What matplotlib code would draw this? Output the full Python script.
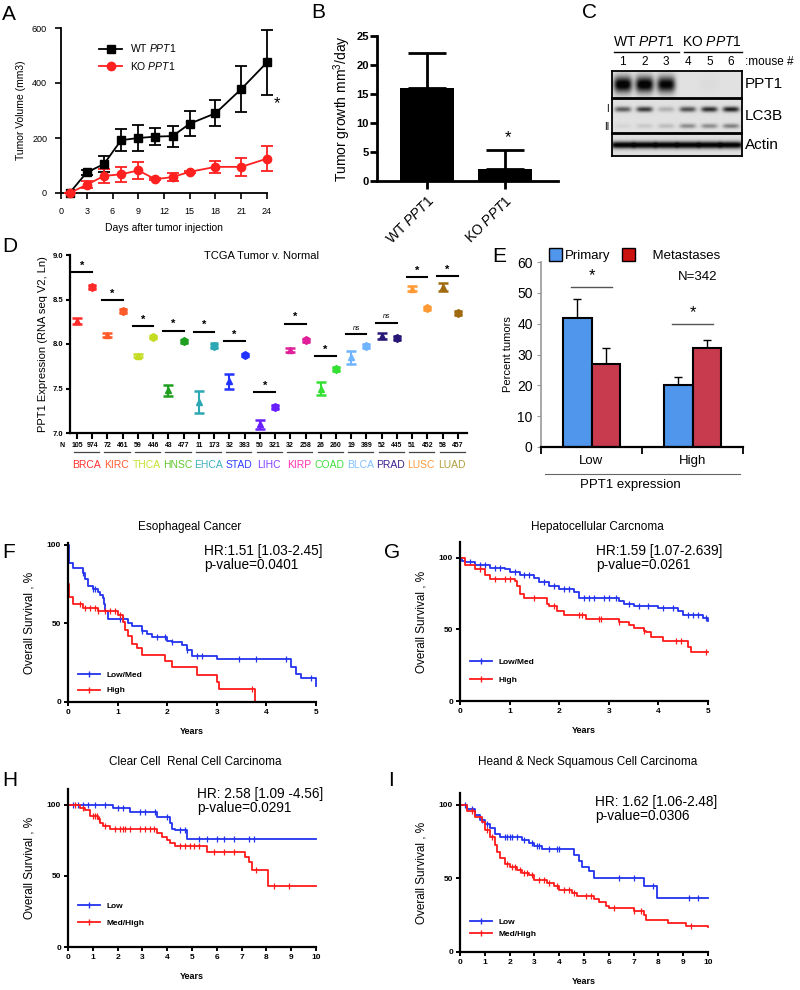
import numpy as np
import matplotlib
matplotlib.use('Agg')
import matplotlib.pyplot as plt
from matplotlib.lines import Line2D
from matplotlib.patches import Patch
import matplotlib.transforms as mtransforms

plt.rcParams['font.family'] = ['Liberation Sans', 'DejaVu Sans']
plt.rcParams['mathtext.fontset'] = 'custom'
plt.rcParams['mathtext.rm'] = 'Liberation Sans'
plt.rcParams['mathtext.it'] = 'Liberation Sans:italic'
plt.rcParams['mathtext.bf'] = 'Liberation Sans:bold'

# ---------------- DATA ----------------
# Panel A
days = [1, 3, 5, 7, 9, 11, 13, 15, 18, 21, 24]
wt_vol = [0, 75, 105, 192, 200, 205, 207, 252, 290, 378, 475]
wt_err = [0, 8, 30, 40, 48, 30, 38, 45, 48, 85, 117]
ko_vol = [0, 30, 62, 68, 82, 50, 58, 77, 95, 95, 125]
ko_err = [0, 12, 25, 28, 30, 3, 13, 3, 23, 33, 45]
a_xticks = [0, 3, 6, 9, 12, 15, 18, 21, 24]
a_yticks = [0, 200, 400, 600]

# Panel B
growth_labels = ['WT $\\mathit{PPT1}$', 'KO $\\mathit{PPT1}$']
growth = [16, 2]
growth_err = [6, 3.3]
b_yticks = [0, 5, 10, 15, 20, 25]

# Panel C (band intensities per lane, 0..1)
lanes = ['1', '2', '3', '4', '5', '6']
ppt1_band = [1.0, 1.0, 0.95, 0.0, 0.02, 0.0]
lc3b_I_band = [0.55, 0.7, 0.2, 0.6, 0.75, 0.8]
lc3b_II_band = [0.05, 0.1, 0.15, 0.35, 0.35, 0.4]
actin_band = [1.0, 1.0, 1.0, 1.0, 1.0, 1.0]

# Panel D
cancers = ['BRCA', 'KIRC', 'THCA', 'HNSC', 'EHCA', 'STAD', 'LIHC', 'KIRP', 'COAD', 'BLCA', 'PRAD', 'LUSC', 'LUAD']
n_normal = [105, 72, 59, 43, 11, 32, 50, 32, 26, 19, 52, 51, 58]
n_tumor = [974, 461, 446, 477, 173, 383, 321, 258, 260, 389, 445, 452, 457]
normal_expr = [8.26, 8.10, 7.87, 7.48, 7.35, 7.58, 7.10, 7.93, 7.50, 7.85, 8.09, 8.62, 8.64]
normal_err = [0.03, 0.02, 0.02, 0.06, 0.12, 0.08, 0.05, 0.02, 0.07, 0.07, 0.03, 0.03, 0.04]
tumor_expr = [8.64, 8.37, 8.08, 8.03, 7.98, 7.88, 7.29, 8.04, 7.72, 7.98, 8.07, 8.40, 8.35]
tumor_err = [0.02, 0.02, 0.01, 0.02, 0.03, 0.01, 0.02, 0.02, 0.02, 0.02, 0.02, 0.02, 0.02]
sig_level = [8.81, 8.49, 8.20, 8.15, 8.14, 8.03, 7.46, 8.23, 7.86, 8.11, 8.24, 8.75, 8.76]
sig_label = ['*', '*', '*', '*', '*', '*', '*', '*', '*', 'ns', 'ns', '*', '*']
d_yticks = [7.0, 7.5, 8.0, 8.5, 9.0]
marker_colors = ['#ff2a2a', '#ff5a28', '#c4dc20', '#1f9f1f', '#2ca8b4', '#2233ff', '#6a1fff',
                 '#e0209a', '#33e033', '#6fb4ff', '#2a1878', '#ff9933', '#a06a10']
label_colors = ['#ff3030', '#ff5a30', '#c8e030', '#60c830', '#40b0c0', '#3040ff', '#8040ff',
                '#ff30b0', '#40e040', '#80c0ff', '#402090', '#ff9a40', '#b0a040']

# Panel E
e_groups = ['Low', 'High']
primary = [42, 20]
primary_err = [6, 2.7]
metastases = [27, 32]
metastases_err = [5, 2.8]
e_sig = [52, 40]
e_yticks = [0, 10, 20, 30, 40, 50, 60]

# Panel F - Esophageal
F_low_t = [0, 0.02, 0.1, 0.3, 0.35, 0.4, 0.5, 0.6, 0.65, 0.7, 0.72, 0.75, 0.8, 1.2, 1.3, 1.5, 1.6, 1.7, 2.0, 2.1, 2.3, 2.4, 2.5, 3.0, 4.5, 4.6, 4.7, 5.0]
F_low_s = [100, 88, 85, 82, 78, 74, 72, 70, 68, 66, 62, 58, 53, 50, 48, 45, 43, 41, 39, 38, 36, 33, 29, 27, 22, 18, 15, 10]
F_low_c = [0.3, 0.5, 0.55, 1.05, 1.1, 1.5, 1.8, 1.95, 2.1, 2.4, 2.6, 2.7, 3.45, 3.8, 4.4, 4.9]
F_high_t = [0, 0.01, 0.03, 0.1, 0.3, 0.6, 1.0, 1.1, 1.15, 1.2, 1.3, 1.4, 1.5, 1.95, 2.1, 2.6, 3.0, 3.05, 3.78]
F_high_s = [100, 75, 67, 62, 60, 58, 55, 51, 46, 42, 37, 34, 30, 26, 22, 17, 13, 8.5, 0]
F_high_c = [0.25, 0.35, 0.45, 0.55, 0.6, 0.75, 0.85, 0.95, 1.05, 3.7]

# Panel G - Hepatocellular
G_low_t = [0, 0.05, 0.1, 0.3, 0.6, 0.9, 1.0, 1.2, 1.5, 1.6, 1.8, 2.0, 2.3, 2.4, 3.1, 3.2, 3.3, 3.5, 4.0, 4.4, 4.5, 4.9, 5.0]
G_low_s = [100, 98, 97, 95, 93, 92, 90, 88, 86, 83, 80, 78, 76, 72, 72, 70, 68, 66, 65, 63, 60, 58, 56]
G_low_c = [0.2, 0.4, 0.5, 0.7, 0.8, 1.1, 1.3, 1.4, 1.7, 1.9, 2.1, 2.2, 2.5, 2.6, 2.7, 2.9, 3.0, 3.15, 3.4, 3.6, 3.8, 4.1, 4.3, 4.6, 4.7, 4.8, 4.95]
G_high_t = [0, 0.1, 0.3, 0.5, 0.6, 1.1, 1.15, 1.2, 1.3, 1.75, 1.8, 1.95, 2.1, 2.55, 3.2, 3.4, 3.5, 3.7, 3.75, 3.85, 4.1, 4.6, 4.65, 5.0]
G_high_s = [100, 95, 92, 88, 85, 84, 80, 75, 72, 68, 66, 63, 60, 57, 55, 53, 51, 49, 48, 45, 42, 38, 34, 34]
G_high_c = [0.4, 0.7, 0.9, 1.0, 1.5, 1.9, 2.4, 2.45, 2.8, 2.85, 3.2, 3.7, 4.35, 4.45, 4.95]

# Panel H - Clear cell RCC
H_low_t = [0, 1.8, 2.5, 3.6, 4.1, 4.2, 4.3, 4.8, 10]
H_low_s = [100, 98, 95, 91, 87, 83, 82, 76, 76]
H_low_c = [0.2, 0.4, 0.6, 0.8, 1.1, 1.5, 2.0, 2.2, 2.9, 3.1, 3.5, 4.0, 4.5, 4.7, 5.3, 5.6, 6.0, 6.3, 6.7, 7.3, 7.5]
H_high_t = [0, 0.5, 0.7, 0.9, 1.2, 1.3, 1.4, 1.7, 3.5, 3.6, 3.8, 4.0, 4.1, 4.3, 5.5, 5.6, 7.1, 7.15, 7.3, 7.4, 8.05, 10]
H_high_s = [100, 98, 96, 92, 90, 87, 85, 83, 83, 80, 77, 75, 73, 71, 71, 67, 67, 63, 60, 54, 43, 43]
H_high_c = [0.3, 0.6, 1.0, 1.1, 1.15, 1.25, 1.5, 1.9, 2.1, 2.2, 2.3, 2.5, 2.9, 3.1, 3.3, 3.45, 4.5, 4.7, 4.9, 5.1, 5.3, 5.9, 6.3, 6.7, 7.6, 8.3, 8.9]

# Panel I - HNSC
I_low_t = [0, 0.3, 0.6, 0.8, 1.0, 1.2, 1.4, 1.6, 2.5, 2.8, 3.0, 3.3, 4.6, 4.8, 4.9, 5.2, 5.4, 7.4, 7.95, 10]
I_low_s = [100, 97, 93, 90, 87, 84, 80, 78, 76, 74, 72, 70, 66, 62, 58, 55, 50, 45, 37, 37]
I_low_c = [0.2, 0.5, 0.9, 1.1, 1.8, 1.9, 2.0, 2.1, 2.3, 2.6, 2.9, 3.1, 3.2, 3.6, 3.9, 4.0, 6.4, 7.0, 7.8, 9.25, 9.6]
I_high_t = [0, 0.3, 0.6, 0.9, 1.0, 1.2, 1.4, 1.5, 1.6, 1.8, 2.0, 2.3, 2.5, 2.8, 3.0, 3.5, 3.8, 4.0, 4.5, 4.7, 5.4, 5.6, 5.9, 6.0, 7.0, 7.4, 7.5, 8.4, 9.1, 10]
I_high_s = [100, 96, 92, 88, 83, 78, 73, 68, 64, 60, 58, 56, 54, 52, 49, 47, 45, 42, 40, 38, 36, 34, 31, 30, 28, 25, 22, 20, 18, 17]
I_high_c = [0.5, 1.1, 1.3, 1.9, 2.1, 2.2, 2.4, 2.6, 2.7, 2.9, 3.2, 3.4, 3.6, 3.9, 4.2, 4.4, 4.6, 5.1, 5.3, 6.2, 7.0, 7.3, 9.3]

# ---------------- FIGURE ----------------
W, H = 800, 990
fig = plt.figure(figsize=(8, 9.9), dpi=100)


def pax(l, t, r, b):
    return fig.add_axes([l / W, 1 - b / H, (r - l) / W, (b - t) / H])


def ftext(x, y, s, **kw):
    return fig.text(x / W, 1 - y / H, s, **kw)


def letter(x, y, s):
    ftext(x, y, s, fontsize=15, ha='left', va='center')


# ---- Panel A ----
axA = pax(61, 28, 267, 193)
for vals, errs, col, mk in [(wt_vol, wt_err, 'black', 's'), (ko_vol, ko_err, '#ff2020', 'o')]:
    eb = axA.errorbar(days, vals, yerr=errs, color=col, marker=mk, ms=6, lw=1.3,
                      capsize=4, elinewidth=1.3, capthick=1.3, zorder=3)
    for art in eb.get_children():
        art.set_clip_on(False)
axA.set_xlim(0, 24)
axA.set_ylim(0, 600)
axA.set_xticks(a_xticks)
axA.set_yticks(a_yticks)
axA.spines[['top', 'right']].set_visible(False)
axA.spines[['left', 'bottom']].set_linewidth(1.3)
axA.tick_params(labelsize=6.5, width=1.2, length=4, pad=6)
axA.set_xlabel('Days after tumor injection', fontsize=7.5, labelpad=5)
axA.set_ylabel('Tumor Volume (mm3)', fontsize=7.5, labelpad=4)
hA = [Line2D([], [], color='black', marker='s', ms=6, lw=1.3),
      Line2D([], [], color='#ff2020', marker='o', ms=6, lw=1.3)]
axA.legend(hA, ['WT $\\mathit{PPT1}$', 'KO $\\mathit{PPT1}$'], loc='upper left',
           bbox_to_anchor=(0.14, 0.97), frameon=False, fontsize=7.5, handlelength=2.2,
           labelspacing=0.5)
ftext(277, 104, '*', fontsize=12, ha='center', va='center')
letter(2, 14, 'A')

# ---- Panel B ----
axB = pax(377, 36, 558, 181)
xb = np.arange(len(growth))
axB.bar(xb, growth, width=0.7, color='black', zorder=2)
axB.errorbar(xb, growth, yerr=[np.zeros(len(growth)), growth_err], fmt='none',
             ecolor='black', elinewidth=2, capsize=14, capthick=2, zorder=3)
axB.set_xlim(-0.64, 1.68)
axB.set_ylim(0, 25)
axB.set_yticks(b_yticks)
axB.set_xticks(xb)
axB.set_xticklabels(growth_labels, rotation=45, ha='right', va='top',
                    rotation_mode='anchor', fontsize=10)
axB.spines[['top', 'right']].set_visible(False)
axB.spines[['left', 'bottom']].set_linewidth(2)
axB.tick_params(axis='y', labelsize=8, width=2, length=5, pad=1)
axB.tick_params(axis='x', width=2, length=6, pad=3)
for lb in axB.get_yticklabels():
    lb.set_fontweight('bold')
axB.set_ylabel('Tumor growth mm$^3$/day', fontsize=10, labelpad=2)
ftext(508, 138, '*', fontsize=12, ha='center', va='center')
letter(311, 12, 'B')

# ---- Panel C (western blot) ----
letter(582, 13, 'C')
ftext(613, 42, 'WT $\\mathit{PPT1}$', fontsize=10, ha='left', va='center')
ftext(682, 42, 'KO $\\mathit{PPT1}$', fontsize=10, ha='left', va='center')
fig.add_artist(Line2D([614 / W, 679 / W], [1 - 52 / H] * 2, color='black', lw=1))
fig.add_artist(Line2D([684 / W, 742 / W], [1 - 52 / H] * 2, color='black', lw=1))
blot_left, blot_right = 612, 742
lane_w = (blot_right - blot_left) / len(lanes)
for i, ln in enumerate(lanes):
    ftext(blot_left + lane_w * (i + 0.5), 62, ln, fontsize=8.5, ha='center', va='center')
ftext(745, 62, ':mouse #', fontsize=8.5, ha='left', va='center')

xg = np.linspace(0, len(lanes), 360)
yg = np.linspace(0, 1, 60)
X, Y = np.meshgrid(xg, yg)


def band_img(intens, yc, hh, wx, sharp=4):
    img = np.zeros_like(X)
    for i, v in enumerate(intens):
        c = i + 0.5
        img += v * np.exp(-np.abs((X - c) / wx) ** sharp) * np.exp(-((Y - yc) / hh) ** 2)
    return img


blots = [
    ('PPT1', 71, 98, [(ppt1_band, 0.5, 0.3, 0.42, 4)]),
    ('LC3B', 99, 133, [(lc3b_I_band, 0.3, 0.08, 0.38, 4), (lc3b_II_band, 0.8, 0.07, 0.38, 4)]),
    ('Actin', 134, 156, [(actin_band, 0.5, 0.16, 0.55, 6)]),
]
for name, t, b, bands in blots:
    axc = pax(blot_left, t, blot_right, b)
    img = np.zeros_like(X)
    for intens, yc, hh, wx, sh in bands:
        img += band_img(intens, yc, hh, wx, sh)
    img = np.clip(0.88 - 0.95 * np.clip(img, 0, 1.1), 0.02, 1)
    axc.imshow(img, cmap='gray', vmin=0, vmax=1, aspect='auto',
               extent=(0, len(lanes), 1, 0), interpolation='bilinear')
    axc.set_xticks([])
    axc.set_yticks([])
    for sp in axc.spines.values():
        sp.set_linewidth(1.3)
    ftext(blot_right + 3, (t + b) / 2, name, fontsize=11, ha='left', va='center')
ftext(609, 109, 'I', fontsize=7, ha='right', va='center')
ftext(609, 127, 'II', fontsize=7, ha='right', va='center')

# ---- Panel D ----
axD = pax(70, 255, 467, 433)
nc = len(cancers)
pos_n = np.arange(nc) * 2
pos_t = pos_n + 1
for i in range(nc):
    col = marker_colors[i]
    axD.errorbar(pos_n[i], normal_expr[i], yerr=normal_err[i], fmt='^', color=col, ms=4,
                 capsize=3.5, elinewidth=1.5, capthick=1.8)
    axD.errorbar(pos_t[i], tumor_expr[i], yerr=tumor_err[i], fmt='h', color=col, ms=5.5,
                 capsize=3, elinewidth=1.5, capthick=1.8)
    axD.plot([pos_n[i] - 0.35, pos_t[i]], [sig_level[i]] * 2, color='black', lw=1.5)
    if sig_label[i] == '*':
        axD.text(pos_n[i] + 0.32, sig_level[i] + 0.015, '*', ha='center', va='bottom',
                 fontsize=8, fontweight='bold')
    else:
        axD.text(pos_n[i] + 0.32, sig_level[i] + 0.025, 'ns', ha='center', va='bottom',
                 fontsize=5, style='italic')
axD.set_xlim(-0.46, 2 * nc - 1 + 0.6)
axD.set_ylim(7.0, 9.0)
axD.set_yticks(d_yticks)
axD.set_yticklabels([f'{v:.1f}' for v in d_yticks])
axD.set_xticks(np.concatenate([pos_n, pos_t]))
axD.set_xticklabels([])
axD.spines[['top', 'right']].set_visible(False)
axD.spines[['left', 'bottom']].set_linewidth(1.6)
axD.tick_params(axis='y', labelsize=5.5, width=1.5, length=3, pad=1.5)
axD.tick_params(axis='x', width=1.5, length=4)
for lb in axD.get_yticklabels():
    lb.set_fontweight('bold')
axD.set_ylabel('PPT1 Expression (RNA seq V2, Ln)', fontsize=8, labelpad=4)
trD = mtransforms.blended_transform_factory(axD.transData, axD.transAxes)
axD.text(-0.95, -0.068, 'N', transform=trD, fontsize=5, fontweight='bold', ha='center', va='center')
for i in range(nc):
    axD.text(pos_n[i], -0.068, str(n_normal[i]), transform=trD, fontsize=5, fontweight='bold',
             ha='center', va='center', clip_on=False)
    axD.text(pos_t[i], -0.068, str(n_tumor[i]), transform=trD, fontsize=5, fontweight='bold',
             ha='center', va='center', clip_on=False)
    axD.plot([pos_n[i] - 0.2, pos_t[i] + 0.45], [-0.107, -0.107], transform=trD, color='#444444',
             lw=0.9, clip_on=False)
    axD.text(pos_n[i] + 0.6, -0.18, cancers[i], transform=trD, fontsize=7.5,
             color=label_colors[i], ha='center', va='center', clip_on=False)
ftext(262, 256, 'TCGA Tumor v. Normal', fontsize=8, ha='center', va='center')
letter(2, 246, 'D')

# ---- Panel E ----
axE = pax(541, 262, 743, 447)
xe = np.arange(len(e_groups))
bw = 0.285
c_prim, c_met = '#4f96ec', '#c83a4e'
axE.bar(xe - bw / 2, primary, width=bw, color=c_prim, edgecolor='black', lw=1.5, zorder=2)
axE.bar(xe + bw / 2, metastases, width=bw, color=c_met, edgecolor='black', lw=1.5, zorder=2)
axE.errorbar(xe - bw / 2, primary, yerr=[np.zeros(2), primary_err], fmt='none', ecolor='black',
             elinewidth=1, capsize=3, capthick=1, zorder=1)
axE.errorbar(xe + bw / 2, metastases, yerr=[np.zeros(2), metastases_err], fmt='none',
             ecolor='black', elinewidth=1, capsize=3, capthick=1, zorder=1)
for i in range(len(e_groups)):
    axE.plot([xe[i] - 0.2, xe[i] + 0.2], [e_sig[i]] * 2, color='#555555', lw=1)
    axE.text(xe[i], e_sig[i] + 1.0, '*', ha='center', va='bottom', fontsize=12)
axE.set_xlim(-0.5, 1.5)
axE.set_ylim(0, 60)
axE.set_yticks(e_yticks)
axE.set_xticks([-0.5, 0.5, 1.5])
axE.set_xticklabels([])
axE.spines[['top', 'right']].set_visible(False)
axE.spines['left'].set_color('#999999')
axE.spines['left'].set_linewidth(1.2)
axE.spines['bottom'].set_linewidth(1.6)
axE.tick_params(axis='y', labelsize=10, length=3, color='#999999', pad=3)
axE.tick_params(axis='x', length=5, width=1.3)
axE.set_ylabel('Percent tumors', fontsize=8, labelpad=3)
trE = mtransforms.blended_transform_factory(axE.transData, axE.transAxes)
for i, g in enumerate(e_groups):
    axE.text(xe[i], -0.075, g, transform=trE, fontsize=9.5, ha='center', va='center')
fig.add_artist(Line2D([545 / W, 740 / W], [1 - 474 / H] * 2, color='#666666', lw=0.8))
ftext(630, 485, 'PPT1 expression', fontsize=9.5, ha='center', va='center')
ftext(698, 277, 'N=342', fontsize=9.5, ha='center', va='center')
hE = [Patch(facecolor=c_prim, edgecolor='black'), Patch(facecolor='#cc1111', edgecolor='black')]
fig.legend(hE, ['Primary', '    Metastases'], loc='center left',
           bbox_to_anchor=(549 / W, 1 - 255 / H), ncol=2, frameon=False, fontsize=9.5,
           handlelength=1.0, handleheight=1.1, handletextpad=0.2, columnspacing=0.9,
           borderpad=0, borderaxespad=0)
letter(492, 257, 'E')


# ---- KM panels ----
def km_step(ax, t, s, ct, color):
    t = np.asarray(t, dtype=float)
    s = np.asarray(s, dtype=float)
    ax.step(t, s, where='post', color=color, lw=1.3, clip_on=False)
    idx = np.searchsorted(t, ct, side='right') - 1
    ax.plot(ct, s[idx], linestyle='none', marker='|', color=color, ms=4, mew=0.9, clip_on=False)


def km_panel(box, xmax, ytop, curves, labels, title, hr, pv, tpos, hrpos, let, letpos, leg_y, leg_sp):
    ax = pax(*box)
    for (t, s, c), col in zip(curves, ['#2233ee', '#ff1a1a']):
        km_step(ax, t, s, c, col)
    ax.set_xlim(0, xmax)
    ax.set_ylim(0, ytop)
    ax.set_xticks(range(0, xmax + 1))
    ax.set_yticks([0, 50, 100])
    ax.spines[['top', 'right']].set_visible(False)
    ax.spines[['left', 'bottom']].set_linewidth(1.6)
    ax.tick_params(labelsize=6, width=1.4, length=3, pad=2)
    for lb in ax.get_xticklabels() + ax.get_yticklabels():
        lb.set_fontweight('bold')
    ax.set_xlabel('Years', fontsize=6.5, fontweight='bold', labelpad=8)
    ax.set_ylabel('Overall Survival , %', fontsize=8.5, labelpad=8)
    hh = [Line2D([], [], color='#2233ee', marker='|', ms=4, lw=1.3),
          Line2D([], [], color='#ff1a1a', marker='|', ms=4, lw=1.3)]
    ax.legend(hh, labels, loc='lower left', bbox_to_anchor=(0.01, leg_y), frameon=False,
              prop={'size': 6, 'weight': 'bold'}, handlelength=2.6, labelspacing=leg_sp)
    ftext(tpos[0], tpos[1], title, fontsize=8.5, ha='center', va='center')
    ftext(hrpos[0], hrpos[1], hr, fontsize=9.8, ha='left', va='center')
    ftext(hrpos[0], hrpos[1] + 14, pv, fontsize=9.8, ha='left', va='center')
    letter(letpos[0], letpos[1], let)
    return ax


km_panel((68, 543, 316, 702), 5, 101,
         [(F_low_t, F_low_s, F_low_c), (F_high_t, F_high_s, F_high_c)],
         ['Low/Med', 'High'], 'Esophageal Cancer', 'HR:1.51 [1.03-2.45]', 'p-value=0.0401',
         (190, 527), (204, 551), 'F', (2, 553), 0.0, 0.9)
km_panel((460, 542, 708, 701), 5, 111,
         [(G_low_t, G_low_s, G_low_c), (G_high_t, G_high_s, G_high_c)],
         ['Low/Med', 'High'], 'Hepatocellular Carcnoma', 'HR:1.59 [1.07-2.639]', 'p-value=0.0261',
         (597, 527), (596, 551), 'G', (384, 553), 0.06, 1.2)
km_panel((68, 789, 316, 947), 10, 111,
         [(H_low_t, H_low_s, H_low_c), (H_high_t, H_high_s, H_high_c)],
         ['Low', 'Med/High'], 'Clear Cell  Renal Cell Carcinoma', 'HR: 2.58 [1.09 -4.56]',
         'p-value=0.0291', (195, 762), (197, 794), 'H', (2, 781), 0.08, 1.1)
km_panel((460, 793, 708, 952), 10, 108,
         [(I_low_t, I_low_s, I_low_c), (I_high_t, I_high_s, I_high_c)],
         ['Low', 'Med/High'], 'Heand & Neck Squamous Cell Carcinoma', 'HR: 1.62 [1.06-2.48]',
         'p-value=0.0306', (588, 762), (595, 802), 'I', (388, 781), 0.04, 0.5)

fig.savefig('out.png', dpi=100)
